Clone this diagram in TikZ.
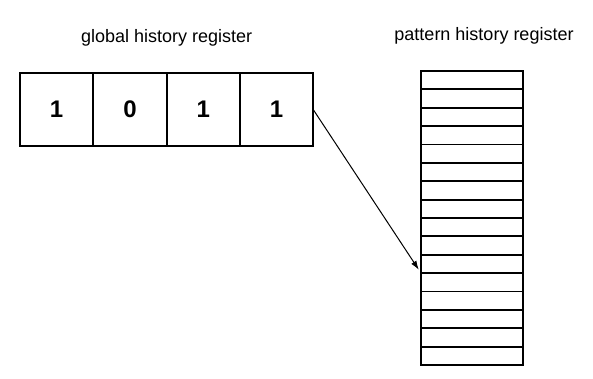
\documentclass[tikz,border=0pt]{standalone}
\usepackage{fontspec}
\setmainfont{Liberation Sans}
\usetikzlibrary{arrows.meta, positioning}
\tikzset{
    cell/.style={rectangle, draw, line width=1.8pt, outer sep=0pt, inner sep=0pt, minimum width=73.3pt, minimum height=73pt, font=\fontsize{24}{24}\selectfont\bfseries},
    entry/.style={rectangle, draw, line width=1.8pt, outer sep=0pt, inner sep=0pt, minimum width=102pt, minimum height=18.375pt},
    caption/.style={inner sep=0pt, font=\fontsize{18}{20}\selectfont},
    arrow/.style={-{Latex[length=9pt, width=6pt]}, line width=1pt},
}
\begin{document}
\begin{tikzpicture}[x=1pt, y=-1pt, node distance=0pt]
    \useasboundingbox (0,0) rectangle (593,379);
    % global history register
    \node[cell, anchor=north west] (c1) at (20,73) {1};
    \node[cell, right=of c1] (c2) {0};
    \node[cell, right=of c2] (c3) {1};
    \node[cell, right=of c3] (c4) {1};
    \node[caption, above=27pt of c2.north east] (ghrlabel) {global history register};
    % pattern history table
    \node[entry, anchor=north west] (pht0) at (421,71) {};
    \foreach \i [remember=\i as \j (initially 0)] in {1,...,15}
        \node[entry, below=of pht\j] (pht\i) {};
    \node[caption, above=27pt of pht0.north, xshift=12pt] (phtlabel) {pattern history register};
    \draw[arrow, shorten >=4pt] (c4.east) -- (pht11.north west);
\end{tikzpicture}
\end{document}
